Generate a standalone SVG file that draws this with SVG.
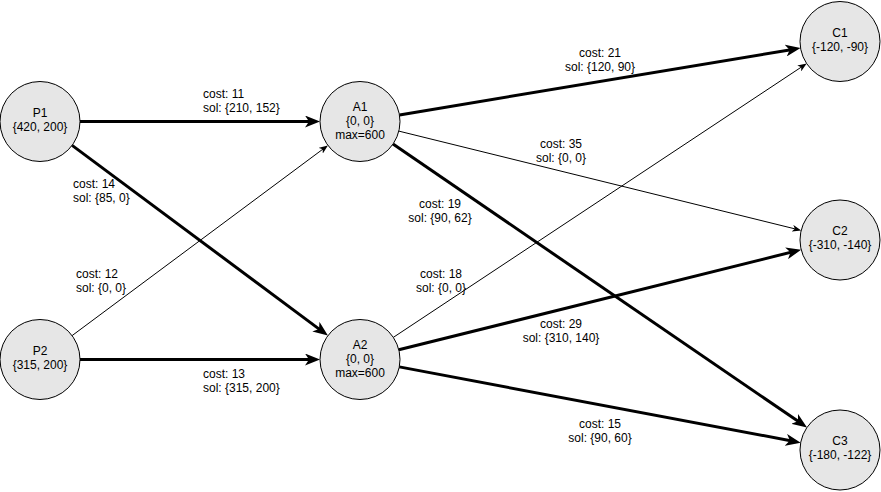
<svg xmlns="http://www.w3.org/2000/svg" width="881" height="492" viewBox="0 0 881 492">
<style>
.n{fill:#e6e6e6;stroke:#000;stroke-width:1}
text{font-family:"Liberation Sans",Arial,Helvetica,sans-serif;font-size:12px;fill:#000}
.c{text-anchor:middle}
.thick{stroke:#000;stroke-width:3;fill:none;marker-end:url(#ah)}
.thin{stroke:#000;stroke-width:1;fill:none;marker-end:url(#as)}
</style>
<defs>
<marker id="ah" markerUnits="userSpaceOnUse" viewBox="0 0 15 12" markerWidth="15" markerHeight="12" refX="10" refY="6" orient="auto"><path d="M0,0 L15,6 L0,12 L4,6 z" fill="#000"/></marker>
<marker id="as" markerUnits="userSpaceOnUse" viewBox="0 0 9 7" markerWidth="9" markerHeight="7" refX="6" refY="3.5" orient="auto"><path d="M0,0 L9,3.5 L0,7 L2.5,3.5 z" fill="#000"/></marker>
</defs>
<g id="connectors">
<line class="thick" x1="80" y1="121.5" x2="315" y2="121.5"/>
<line class="thick" x1="72.1" y1="145.4" x2="323.9" y2="332.6"/>
<line class="thin" x1="72.1" y1="335.6" x2="325.5" y2="147.2"/>
<line class="thick" x1="80" y1="359.5" x2="315" y2="359.5"/>
<line class="thick" x1="399.5" y1="114.9" x2="795.6" y2="48.9"/>
<line class="thin" x1="398.8" y1="131.1" x2="798.3" y2="229.7"/>
<line class="thick" x1="393" y1="144.1" x2="802.9" y2="424.6"/>
<line class="thin" x1="393.3" y1="337.4" x2="804.2" y2="65.2"/>
<line class="thick" x1="398.8" y1="349.8" x2="796.3" y2="250.9"/>
<line class="thick" x1="399.3" y1="366.9" x2="795.8" y2="441.7"/>
<g id="labels">
<text x="203" y="98">cost: 11</text><text x="203" y="112">sol: {210, 152}</text>
<text x="73" y="188">cost: 14</text><text x="73" y="202">sol: {85, 0}</text>
<text x="76" y="278">cost: 12</text><text x="76" y="292">sol: {0, 0}</text>
<text x="203" y="378">cost: 13</text><text x="203" y="392">sol: {315, 200}</text>
<text class="c" x="600" y="57">cost: 21</text><text class="c" x="600" y="71">sol: {120, 90}</text>
<text class="c" x="561" y="148">cost: 35</text><text class="c" x="561" y="162">sol: {0, 0}</text>
<text class="c" x="440" y="208">cost: 19</text><text class="c" x="440" y="222">sol: {90, 62}</text>
<text class="c" x="441" y="278">cost: 18</text><text class="c" x="441" y="292">sol: {0, 0}</text>
<text class="c" x="561" y="328">cost: 29</text><text class="c" x="561" y="342">sol: {310, 140}</text>
<text class="c" x="600" y="428">cost: 15</text><text class="c" x="600" y="442">sol: {90, 60}</text>
</g>
</g>
<g id="P1"><circle class="n" cx="40" cy="121.5" r="40"/><text class="c" x="40" y="116.5">P1</text><text class="c" x="40" y="130.5">{420, 200}</text></g>
<g id="P2"><circle class="n" cx="40" cy="359.5" r="40"/><text class="c" x="40" y="354.5">P2</text><text class="c" x="40" y="368.5">{315, 200}</text></g>
<g id="A1"><circle class="n" cx="360" cy="121.5" r="40"/><text class="c" x="360" y="110.5">A1</text><text class="c" x="360" y="124.5">{0, 0}</text><text class="c" x="360" y="138.5">max=600</text></g>
<g id="A2"><circle class="n" cx="360" cy="359.5" r="40"/><text class="c" x="360" y="348.5">A2</text><text class="c" x="360" y="362.5">{0, 0}</text><text class="c" x="360" y="376.5">max=600</text></g>
<g id="C1"><circle class="n" cx="840" cy="41.5" r="40"/><text class="c" x="840" y="36.5">C1</text><text class="c" x="840" y="50.5">{-120, -90}</text></g>
<g id="C2"><circle class="n" cx="840" cy="240" r="40"/><text class="c" x="840" y="235">C2</text><text class="c" x="840" y="249">{-310, -140}</text></g>
<g id="C3"><circle class="n" cx="840" cy="450" r="40"/><text class="c" x="840" y="445">C3</text><text class="c" x="840" y="459">{-180, -122}</text></g>
</svg>
